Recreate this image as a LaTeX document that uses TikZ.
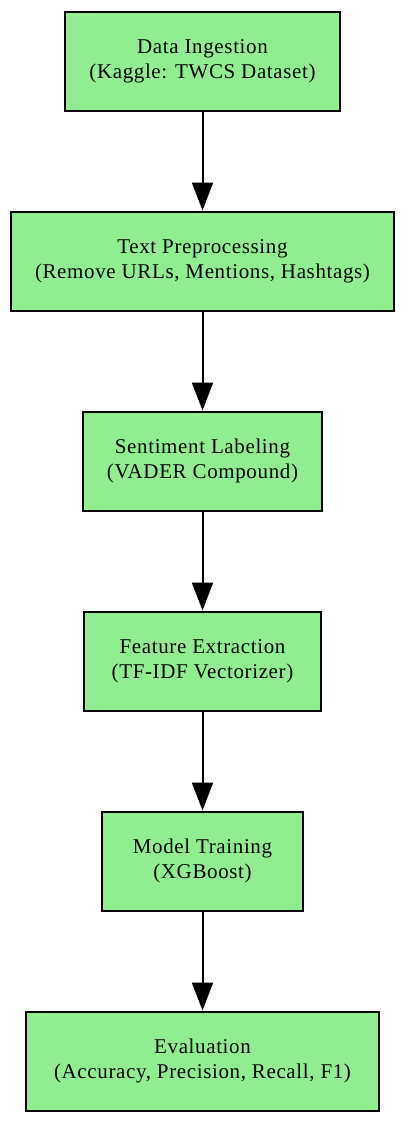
\documentclass[tikz,border=0pt]{standalone}
\usepackage{fontspec}
\setmainfont{Liberation Serif}[LetterSpace=3]
\usetikzlibrary{arrows.meta}
\definecolor{boxgreen}{HTML}{90EE90}
\tikzset{
  stagebox/.style={draw=black, line width=2pt, fill=boxgreen, rectangle,
    minimum height=99pt, inner sep=0pt, align=center,
    font=\fontsize{21pt}{25pt}\selectfont},
  flowarrow/.style={line width=2pt, -{Triangle[length=28pt,width=21pt]}}
}
\begin{document}
\begin{tikzpicture}[x=1pt,y=-1pt]
\useasboundingbox (0,0) rectangle (406,1122);
\node[stagebox, minimum width=275pt] (n1) at (202.5,61) {Data Ingestion\\(Kaggle: TWCS Dataset)};
\node[stagebox, minimum width=383pt] (n2) at (202.5,261) {Text Preprocessing\\(Remove URLs, Mentions, Hashtags)};
\node[stagebox, minimum width=239pt] (n3) at (202.5,461) {Sentiment Labeling\\(VADER Compound)};
\node[stagebox, minimum width=237pt] (n4) at (202.5,661) {Feature Extraction\\(TF-IDF Vectorizer)};
\node[stagebox, minimum width=201pt] (n5) at (202.5,861) {Model Training\\(XGBoost)};
\node[stagebox, minimum width=353pt] (n6) at (202.5,1061) {Evaluation\\(Accuracy, Precision, Recall, F1)};
\draw[flowarrow] (n1.south) -- (n2.north);
\draw[flowarrow] (n2.south) -- (n3.north);
\draw[flowarrow] (n3.south) -- (n4.north);
\draw[flowarrow] (n4.south) -- (n5.north);
\draw[flowarrow] (n5.south) -- (n6.north);
\end{tikzpicture}
\end{document}
